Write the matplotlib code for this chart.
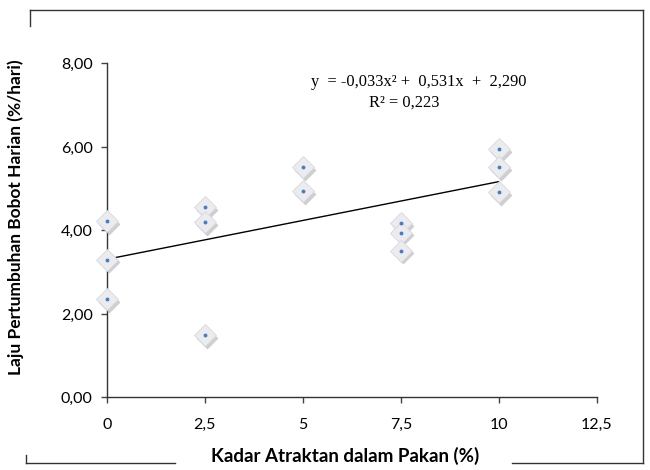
import matplotlib
matplotlib.use("Agg")
import matplotlib.pyplot as plt
from matplotlib.lines import Line2D
import matplotlib.transforms as mtransforms

# data
kadar = [0, 0, 0, 2.5, 2.5, 2.5, 5, 5, 7.5, 7.5, 7.5, 10, 10, 10]
laju = [4.23, 3.30, 2.36, 4.56, 4.20, 1.50, 5.51, 4.94, 4.18, 3.95, 3.52, 5.95, 5.52, 4.92]
trend_x = [0, 10]
trend_y = [3.31, 5.17]
xticks = [0, 2.5, 5, 7.5, 10, 12.5]
xtick_labels = ["0", "2,5", "5", "7,5", "10", "12,5"]
yticks = [0, 2, 4, 6, 8]
ytick_labels = ["0,00", "2,00", "4,00", "6,00", "8,00"]

FONT = ["Lato", "DejaVu Sans"]
SERIF = ["Liberation Serif", "DejaVu Serif"]

fig = plt.figure(figsize=(6.5, 4.7), dpi=100)
ax = fig.add_axes([0.1642, 0.1543, 0.754, 0.7106])
ax.set_xlim(0, 12.5)
ax.set_ylim(0, 8)

# trend line
ax.plot(trend_x, trend_y, color="black", lw=1.0, zorder=2)

# diamond markers with a soft shadow and blue centre dot
shadow = mtransforms.offset_copy(ax.transData, fig=fig, x=1.5, y=-2.0, units="points")
ax.plot(kadar, laju, "D", ms=11.5, mfc="#b0b0b4", mec="none", alpha=0.6,
        transform=shadow, zorder=3, clip_on=False)
for x, y in zip(kadar, laju):
    ax.plot(x, y, "D", ms=11.5, mfc="#ececf0", mec="#d6d8de", mew=0.6, zorder=4, clip_on=False)
    ax.plot(x, y, "o", ms=2.8, mfc="#4a7ebb", mec="none", zorder=5, clip_on=False)

ax.set_xticks(xticks)
ax.set_xticklabels(xtick_labels, family=FONT, fontsize=11.5)
ax.set_yticks(yticks)
ax.set_yticklabels(ytick_labels, family=FONT, fontsize=11.5)
ax.tick_params(axis="both", direction="out", length=4, width=1, color="#444444")
ax.tick_params(axis="x", pad=11)
ax.tick_params(axis="y", pad=6)
for s in ("top", "right"):
    ax.spines[s].set_visible(False)
for s in ("left", "bottom"):
    ax.spines[s].set_linewidth(1.0)
    ax.spines[s].set_color("#333333")

# equation
ax.text(0.637, 0.945, "y  = -0,033x² +  0,531x  +  2,290", transform=ax.transAxes,
        family=SERIF, fontsize=11.8, ha="center", va="center")
ax.text(0.607, 0.882, "R² = 0,223", transform=ax.transAxes,
        family=SERIF, fontsize=11.8, ha="center", va="center")

# outer chart border broken by the axis titles
W, H = 650, 470
def seg(x0, y0, x1, y1):
    fig.add_artist(Line2D([x0 / W, x1 / W], [1 - y0 / H, 1 - y1 / H],
                          transform=fig.transFigure, color="#333333", lw=1.0))
seg(30, 10, 643, 10)
seg(643, 10, 643, 463)
seg(26, 463, 175, 463)
seg(512, 463, 643, 463)
seg(30, 10, 30, 26)
seg(26, 455, 26, 463)

fig.text(345 / W, 1 - 456 / H, "Kadar Atraktan dalam Pakan (%)", family=FONT,
         fontsize=13.5, fontweight="bold", ha="center", va="center")
fig.text(16 / W, 1 - 217 / H, "Laju Pertumbuhan Bobot Harian (%/hari)", family=FONT,
         fontsize=12.5, fontweight="bold", ha="center", va="center", rotation=90)

fig.savefig("out.png", dpi=100)
